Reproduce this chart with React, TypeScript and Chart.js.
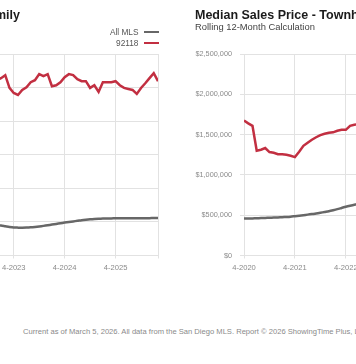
import React, { useEffect, useRef } from 'react';
import { Chart, registerables } from 'chart.js';

Chart.register(...registerables);

// Monthly points, 4-2020 .. 2-2026 (rolling 12-month median, thousands of $)
const xTickLabels = ['4-2020', '4-2021', '4-2022', '4-2023', '4-2024', '4-2025'];
const xTickIndex = [0, 12, 24, 36, 48, 60];
const lastIndex = 70;

// Single Family
const sfAllMLS = [
  680, 685, 690, 700, 710, 720, 730, 740, 750, 760, 770, 780,
  795, 810, 825, 840, 855, 870, 880, 890, 900, 910, 920, 930,
  940, 945, 945, 940, 935, 925, 915, 905, 898,
  890, 870, 850, 835, 830, 828, 832, 840, 852, 866, 882, 900,
  920, 940, 960, 980, 998, 1015, 1032, 1050, 1065, 1078, 1088, 1095,
  1100, 1103, 1105, 1106, 1106, 1106, 1106, 1107, 1108, 1109, 1110, 1112,
  1114, 1116,
];
const sf92118 = [
  3350, 3400, 3420, 3500, 3550, 3600, 3680, 3750, 3820, 3900, 3980, 4050,
  4150, 4250, 4300, 4400, 4480, 4550, 4600, 4700, 4780, 4850, 4900, 4950,
  5000, 5050, 5100, 5150, 5120, 5180, 5200, 5250, 5220,
  5280, 5370, 4990, 4840, 4780, 4930, 5010, 5160, 5220, 5400, 5340, 5400,
  5040, 5070, 5160, 5310, 5400, 5370, 5250, 5190, 5190, 4990, 5070, 4870,
  5160, 5160, 5160, 5190, 5070, 4990, 4960, 4930, 4810, 4990, 5130, 5280,
  5430, 5190,
];

// Townhouse-Condo
const thAllMLS = [
  458, 459, 460, 462, 464, 466, 468, 470, 472, 475, 478, 482,
  488, 494, 500, 507, 514, 521, 530, 540, 550, 562, 575, 590,
  605, 618, 630, 640, 650, 658, 665, 670, 672, 673, 672, 670,
  668, 667, 668, 670, 675, 680, 686, 692, 698, 704, 710, 715,
  720, 724, 728, 731, 734, 737, 740, 742, 744, 746, 748, 750,
  752, 754, 756, 758, 760, 762, 763, 764, 765, 766, 768,
];
const th92118 = [
  1675, 1640, 1609, 1300, 1312, 1333, 1283, 1275, 1256, 1256, 1250, 1238,
  1221, 1287, 1361, 1400, 1436, 1467, 1494, 1510, 1522, 1528, 1547, 1559,
  1559, 1609, 1621, 1630, 1645, 1652, 1660, 1675, 1682, 1690, 1704, 1712,
  1720, 1738, 1745, 1762, 1770, 1784, 1790, 1802, 1815, 1820, 1833, 1841,
  1850, 1862, 1866, 1871, 1878, 1880, 1889, 1892, 1898, 1901, 1907, 1910,
  1918, 1921, 1926, 1932, 1934, 1941, 1946, 1950, 1953, 1958, 1965,
];

const RED = '#c22f41';
const GRAY = '#676767';
const GRID = '#e2e2e2';
const FONT = '"Liberation Sans", Arial, Helvetica, sans-serif';

const CANVAS_W = 362;
const CANVAS_H = 290;
const Y_AXIS_W = 60;
const PAD_RIGHT = 4.5;
const PAD_TOP = 54;
const X_AXIS_H = 34.5;

type PanelProps = {
  left: number;
  title: string;
  titleDx: number;
  allMLS: number[];
  local: number[];
  yMax: number;
  yStep: number;
};

function Panel({ left, title, titleDx, allMLS, local, yMax, yStep }: PanelProps) {
  const ref = useRef<HTMLCanvasElement | null>(null);

  useEffect(() => {
    if (!ref.current) return;
    const chart = new Chart(ref.current, {
      type: 'line',
      data: {
        datasets: [
          {
            label: 'All MLS',
            data: allMLS.map((v, i) => ({ x: i, y: v })),
            borderColor: GRAY,
            borderWidth: 2.5,
            pointRadius: 0,
            tension: 0.3,
          },
          {
            label: '92118',
            data: local.map((v, i) => ({ x: i, y: v })),
            borderColor: RED,
            borderWidth: 2.5,
            pointRadius: 0,
            tension: 0,
          },
        ],
      },
      options: {
        animation: false,
        responsive: false,
        maintainAspectRatio: false,
        layout: { padding: { top: PAD_TOP, right: PAD_RIGHT, left: 0, bottom: 0 } },
        plugins: { legend: { display: false }, tooltip: { enabled: false } },
        scales: {
          x: {
            type: 'linear',
            min: 0,
            max: lastIndex,
            afterBuildTicks: (scale: any) => {
              scale.ticks = [...xTickIndex, lastIndex].map((v) => ({ value: v }));
            },
            afterFit: (scale: any) => {
              scale.height = X_AXIS_H;
            },
            grid: { color: GRID, lineWidth: 1, tickLength: 3 },
            border: { color: GRID },
            ticks: {
              autoSkip: false,
              maxRotation: 0,
              padding: 5,
              color: '#8a8a8a',
              font: { family: FONT, size: 7.6 },
              callback: (v: any) => {
                const i = xTickIndex.indexOf(Number(v));
                return i >= 0 ? xTickLabels[i] : '';
              },
            },
          },
          y: {
            min: 0,
            max: yMax,
            afterFit: (scale: any) => {
              scale.width = Y_AXIS_W;
            },
            grid: { color: GRID, lineWidth: 1, tickLength: 4 },
            border: { display: false },
            ticks: {
              stepSize: yStep,
              padding: 8,
              color: '#8a8a8a',
              font: { family: FONT, size: 7.3 },
              callback: (v: any) => '$' + (Number(v) * 1000).toLocaleString('en-US'),
            },
          },
        },
      },
    });
    return () => chart.destroy();
  }, []);

  const plotLeft = left + Y_AXIS_W;
  const plotRight = left + CANVAS_W - PAD_RIGHT;

  return (
    <>
      <canvas
        ref={ref}
        width={CANVAS_W}
        height={CANVAS_H}
        style={{ position: 'absolute', left, top: 0, width: CANVAS_W, height: CANVAS_H }}
      />
      <div
        style={{
          position: 'absolute',
          left: plotLeft - 49 + titleDx,
          top: 8,
          whiteSpace: 'nowrap',
          fontFamily: FONT,
          fontWeight: 'bold',
          fontSize: 12.5,
          lineHeight: '14px',
          color: '#1b1b1b',
        }}
      >
        {title}
      </div>
      <div
        style={{
          position: 'absolute',
          left: plotLeft - 49 + titleDx,
          top: 21,
          whiteSpace: 'nowrap',
          fontFamily: FONT,
          fontSize: 9.4,
          lineHeight: '12px',
          color: '#444',
        }}
      >
        Rolling 12-Month Calculation
      </div>
      {[
        { label: 'All MLS', color: GRAY, top: 27 },
        { label: '92118', color: RED, top: 38 },
      ].map((it) => (
        <div
          key={it.label}
          style={{
            position: 'absolute',
            left: plotRight - 100,
            width: 100,
            top: it.top,
            height: 10,
            display: 'flex',
            justifyContent: 'flex-end',
            alignItems: 'center',
            fontFamily: FONT,
            fontSize: 8.3,
            lineHeight: '10px',
            color: '#555',
            whiteSpace: 'nowrap',
          }}
        >
          <span>{it.label}</span>
          <span
            style={{
              display: 'inline-block',
              width: 15,
              height: 2.5,
              marginLeft: 5,
              background: it.color,
            }}
          />
        </div>
      ))}
    </>
  );
}

export default function App() {
  return (
    <div
      style={{
        position: 'absolute',
        left: 0,
        top: 0,
        width: 356,
        height: 364,
        overflow: 'hidden',
        background: '#fff',
      }}
    >
      <Panel
        left={-199}
        title="Median Sales Price - Single Family"
        titleDx={3}
        allMLS={sfAllMLS}
        local={sf92118}
        yMax={6000}
        yStep={1000}
      />
      <Panel
        left={184}
        title="Median Sales Price - Townhouse-Condo"
        titleDx={0}
        allMLS={thAllMLS}
        local={th92118}
        yMax={2500}
        yStep={500}
      />
      <div
        style={{
          position: 'absolute',
          left: 23,
          top: 327,
          whiteSpace: 'nowrap',
          fontFamily: FONT,
          fontSize: 7.6,
          lineHeight: '10px',
          color: '#8a8a8a',
        }}
      >
        Current as of March 5, 2026. All data from the San Diego MLS. Report © 2026 ShowingTime Plus, LLC. All rights reserved.
      </div>
    </div>
  );
}
